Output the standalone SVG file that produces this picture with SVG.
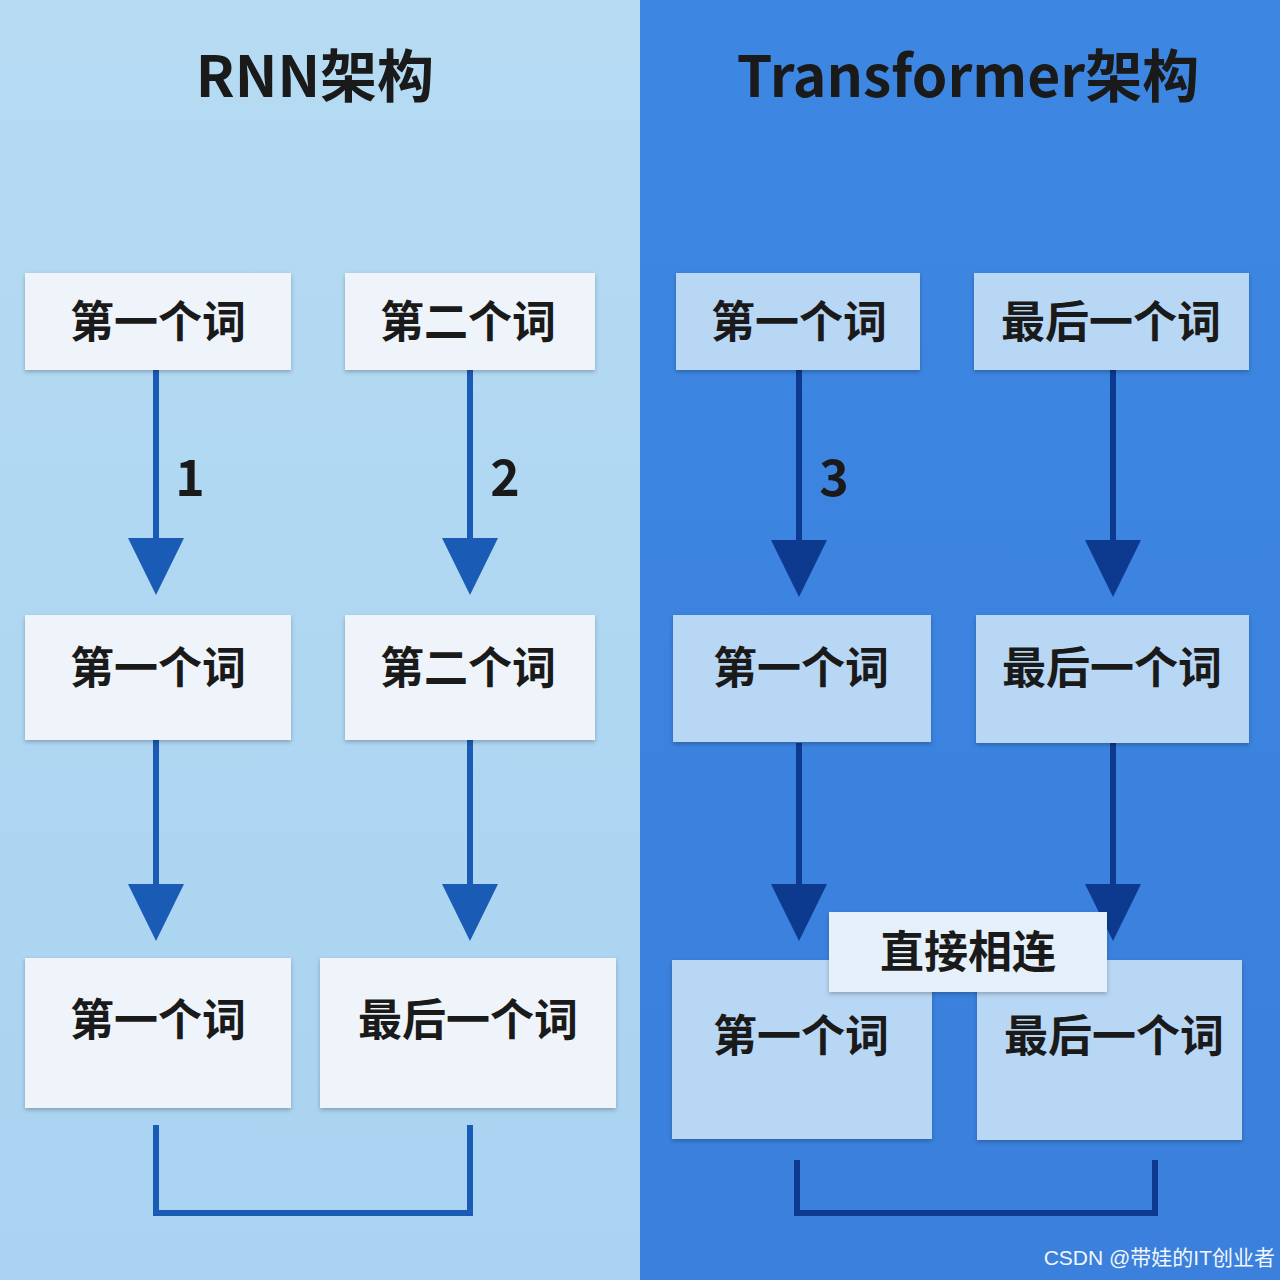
<svg xmlns="http://www.w3.org/2000/svg" width="1280" height="1280" viewBox="0 0 1280 1280">
<defs>
<linearGradient id="lg" x1="0" y1="0" x2="0" y2="1"><stop offset="0" stop-color="#b6dbf3"/><stop offset="1" stop-color="#a9d3f1"/></linearGradient>
<linearGradient id="rg" x1="0" y1="0" x2="0" y2="1"><stop offset="0" stop-color="#3d87e2"/><stop offset="1" stop-color="#3a80dc"/></linearGradient>
<filter id="sh" x="-10%" y="-10%" width="130%" height="140%"><feDropShadow dx="0" dy="2" stdDeviation="2" flood-opacity="0.25"/></filter>
</defs>
<style>
.t{font-family:"Noto Sans CJK SC","Noto Sans",sans-serif;font-weight:700;fill:#1a1a1a;text-anchor:middle}
.n{font-size:44px}
.ln{fill:#eef4fa;filter:url(#sh)}
.rn{fill:#b8d7f5;filter:url(#sh)}
.la{stroke:#1a5bb5;stroke-width:6;fill:none}
.lh{fill:#1a5bb5}
.ra{stroke:#0d3a8f;stroke-width:6;fill:none}
.rh{fill:#0d3a8f}
</style>
<rect x="0" y="0" width="640" height="1280" fill="url(#lg)"/>
<rect x="640" y="0" width="640" height="1280" fill="url(#rg)"/>
<text class="t" x="315" y="97" font-size="57">RNN架构</text>
<text class="t" x="968" y="97" font-size="57">Transformer架构</text>
<g id="connectors">
<path class="la" d="M156 370V542M470 370V542M156 740V888M470 740V888"/>
<path class="lh" d="M128 538H184L156 595ZM442 538H498L470 595ZM128 884H184L156 941ZM442 884H498L470 941Z"/>
<path class="la" d="M156 1125V1213H470V1125"/>
<path class="ra" d="M799 370V544M1113 370V544M799 743V888M1113 743V888"/>
<path class="rh" d="M771 540H827L799 597ZM1085 540H1141L1113 597ZM771 884H827L799 941ZM1085 884H1141L1113 941Z"/>
<path class="ra" d="M797 1160V1213H1155V1160"/>
<text class="t" x="190" y="496" font-size="50">1</text>
<text class="t" x="505" y="496" font-size="50">2</text>
<text class="t" x="834" y="496" font-size="50">3</text>
</g>
<g id="l1"><rect class="ln" x="25" y="273" width="266" height="97"/><text class="t n" x="158" y="338">第一个词</text></g>
<g id="l2"><rect class="ln" x="345" y="273" width="250" height="97"/><text class="t n" x="468" y="338">第二个词</text></g>
<g id="l3"><rect class="ln" x="25" y="615" width="266" height="125"/><text class="t n" x="158" y="684">第一个词</text></g>
<g id="l4"><rect class="ln" x="345" y="615" width="250" height="125"/><text class="t n" x="468" y="684">第二个词</text></g>
<g id="l5"><rect class="ln" x="25" y="958" width="266" height="150"/><text class="t n" x="158" y="1036">第一个词</text></g>
<g id="l6"><rect class="ln" x="320" y="958" width="296" height="150"/><text class="t n" x="468" y="1036">最后一个词</text></g>
<g id="r1"><rect class="rn" x="676" y="273" width="244" height="97"/><text class="t n" x="799" y="338">第一个词</text></g>
<g id="r2"><rect class="rn" x="974" y="273" width="275" height="97"/><text class="t n" x="1111" y="338">最后一个词</text></g>
<g id="r3"><rect class="rn" x="673" y="615" width="258" height="127"/><text class="t n" x="801" y="684">第一个词</text></g>
<g id="r4"><rect class="rn" x="976" y="615" width="273" height="128"/><text class="t n" x="1112" y="684">最后一个词</text></g>
<g id="r5"><rect class="rn" x="672" y="960" width="260" height="179"/><text class="t n" x="801" y="1052">第一个词</text></g>
<g id="r6"><rect class="rn" x="977" y="960" width="265" height="180"/><text class="t n" x="1114" y="1052">最后一个词</text></g>
<g id="link"><rect x="829" y="912" width="278" height="80" fill="#e6f0fa" filter="url(#sh)"/><text class="t n" x="968" y="968">直接相连</text></g>
<text x="1275" y="1265" font-family="Liberation Sans,Noto Sans CJK SC,sans-serif" font-size="21" fill="#f2f6fb" text-anchor="end">CSDN @带娃的IT创业者</text>
</svg>
